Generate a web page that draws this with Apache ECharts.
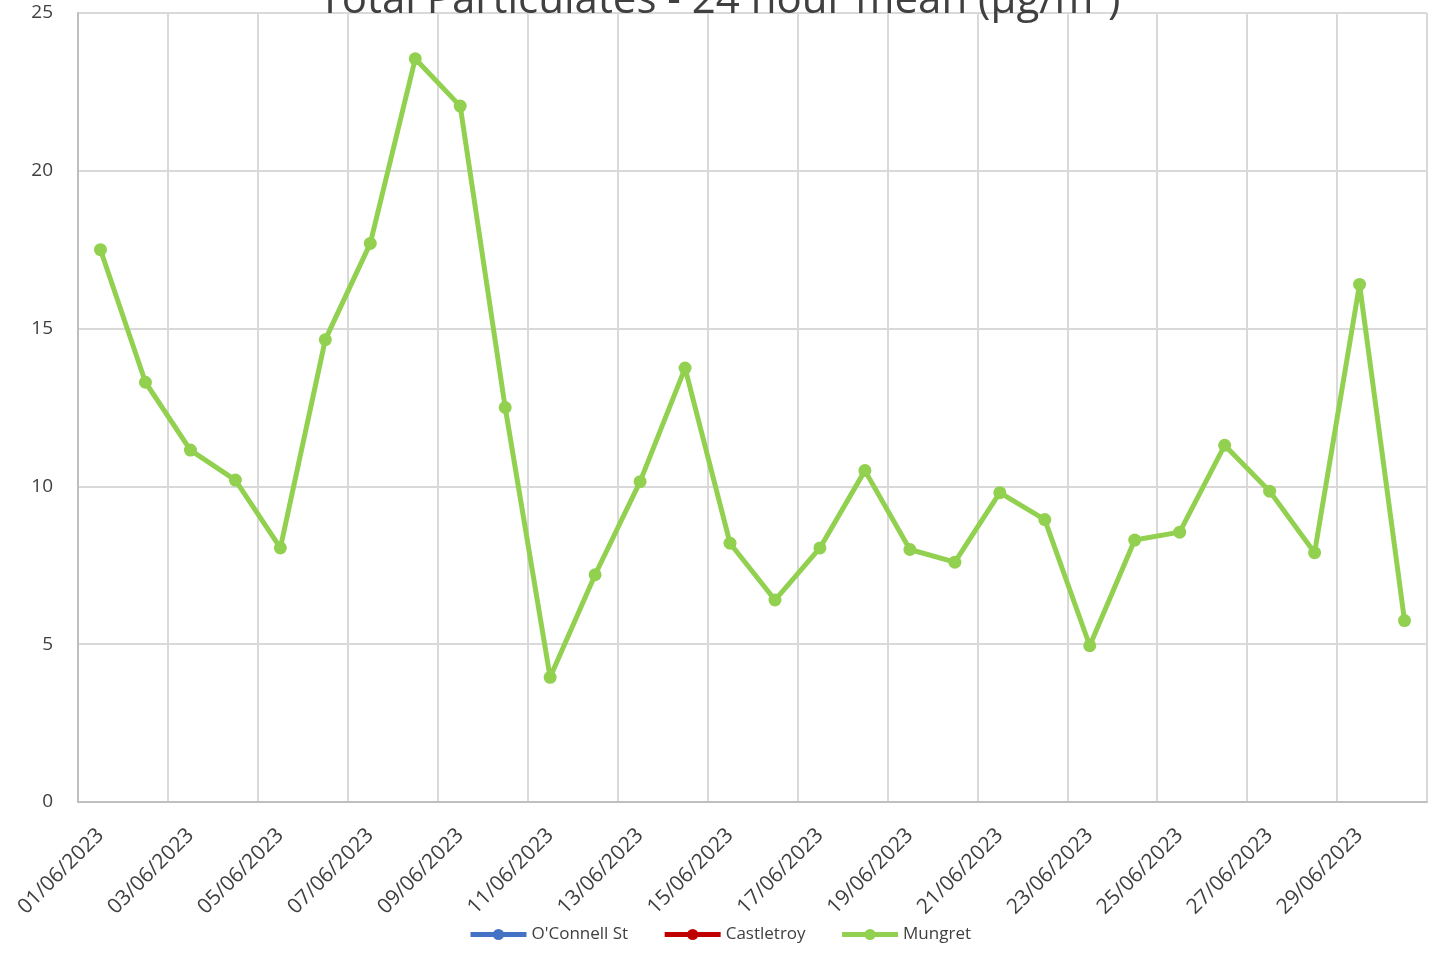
<!DOCTYPE html>
<html>
<head>
<meta charset="utf-8">
<script src="https://cdn.jsdelivr.net/npm/echarts@6/dist/echarts.min.js"></script>
<style>html,body{margin:0;padding:0;background:#fff;}#c{width:1439px;height:953px;}</style>
</head>
<body>
<div id="c"></div>
<script>
var categories = ['01/06/2023','02/06/2023','03/06/2023','04/06/2023','05/06/2023','06/06/2023','07/06/2023','08/06/2023','09/06/2023','10/06/2023',
'11/06/2023','12/06/2023','13/06/2023','14/06/2023','15/06/2023','16/06/2023','17/06/2023','18/06/2023','19/06/2023','20/06/2023',
'21/06/2023','22/06/2023','23/06/2023','24/06/2023','25/06/2023','26/06/2023','27/06/2023','28/06/2023','29/06/2023','30/06/2023'];
var oconnell = [];
var castletroy = [];
var mungret = [17.5,13.3,11.15,10.2,8.05,14.65,17.7,23.55,22.05,12.5,
3.95,7.2,10.15,13.75,8.2,6.4,8.05,10.5,8.0,7.6,
9.8,8.95,4.95,8.3,8.55,11.3,9.85,7.9,16.4,5.75];
var yTicks = [0,5,10,15,20,25];

var chart = echarts.init(document.getElementById('c'));
var font = 'Open Sans';
function lineSeries(name, data, color){
  return {name:name, type:'line', data:data, symbol:'circle', symbolSize:13,
    lineStyle:{width:5,color:color}, itemStyle:{color:color}};
}
chart.setOption({
  animation:false,
  title:{text:'Total Particulates - 24 hour mean (µg/m³)', left:'center', top:-25,
    textStyle:{fontFamily:font,fontSize:42,fontWeight:'normal',color:'#404040'}},
  grid:{left:78,right:12,top:13,bottom:151},
  legend:{bottom:5,left:'center',itemWidth:56,itemHeight:14,itemGap:34,
    lineStyle:{width:5},
    textStyle:{fontFamily:font,fontSize:17,color:'#404040'}},
  xAxis:{type:'category',data:categories,boundaryGap:true,
    axisLine:{lineStyle:{color:'#bfbfbf',width:2}},
    axisTick:{show:false},
    axisLabel:{interval:1,rotate:45,margin:30,fontFamily:font,fontSize:21,color:'#404040'},
    splitLine:{show:true,interval:1,lineStyle:{color:'#d9d9d9',width:2}}},
  yAxis:{type:'value',min:yTicks[0],max:yTicks[yTicks.length-1],interval:5,
    axisLine:{show:true,lineStyle:{color:'#bfbfbf',width:2}},
    axisTick:{show:false},
    axisLabel:{margin:25,fontFamily:font,fontSize:19,color:'#404040'},
    splitLine:{lineStyle:{color:'#d9d9d9',width:2}}},
  series:[lineSeries("O'Connell St",oconnell,'#4472C4'),
          lineSeries('Castletroy',castletroy,'#C00000'),
          lineSeries('Mungret',mungret,'#92D050')]
});
</script>
</body>
</html>
